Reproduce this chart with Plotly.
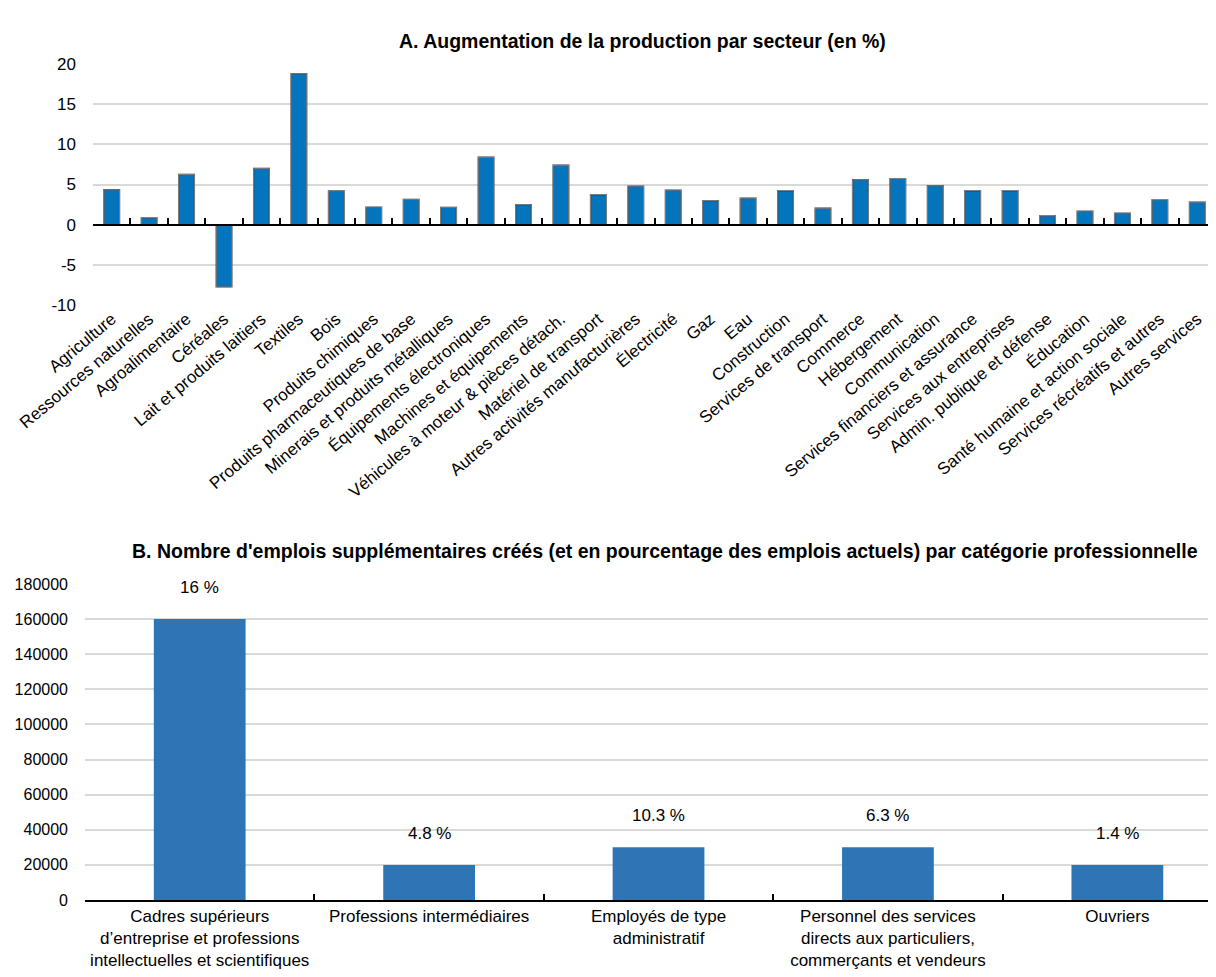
# Production et emplois supplémentaires par secteur / catégorie

import plotly.graph_objects as go

secteurs = [
    "Agriculture", "Ressources naturelles", "Agroalimentaire", "Céréales",
    "Lait et produits laitiers", "Textiles", "Bois", "Produits chimiques",
    "Produits pharmaceutiques de base", "Minerais et produits métalliques",
    "Équipements électroniques", "Machines et équipements",
    "Véhicules à moteur & pièces détach.", "Matériel de transport",
    "Autres activités manufacturières", "Électricité", "Gaz", "Eau",
    "Construction", "Services de transport", "Commerce", "Hébergement",
    "Communication", "Services financiers et assurance",
    "Services aux entreprises", "Admin. publique et défense", "Éducation",
    "Santé humaine et action sociale", "Services récréatifs et autres",
    "Autres services",
]
production = [
    4.35, 0.85, 6.25, -7.75, 7.0, 18.8, 4.2, 2.2, 3.15, 2.15,
    8.4, 2.5, 7.4, 3.75, 4.8, 4.3, 3.0, 3.3, 4.25, 2.05,
    5.6, 5.75, 4.85, 4.25, 4.25, 1.1, 1.7, 1.45, 3.1, 2.8,
]
ticks_a = [-10, -5, 0, 5, 10, 15, 20]
labels_a = ["-10", "-5", "0", "5", "10", "15", "20"]

categories = [
    "Cadres supérieurs<br>d’entreprise et professions<br>intellectuelles et scientifiques",
    "Professions intermédiaires",
    "Employés de type<br>administratif",
    "Personnel des services<br>directs aux particuliers,<br>commerçants et vendeurs",
    "Ouvriers",
]
emplois = [160000, 20000, 30000, 30000, 20000]
pourcentages = ["16 %", "4.8 %", "10.3 %", "6.3 %", "1.4 %"]

police = "Liberation Sans, Arial, sans-serif"
gris = "#d9d9d9"

# la page ajoute une marge de 8 px : figure de 1208 x 969
W, H = 1208, 969


def px_x(x):
    return (x - 8) / W


def px_y(y):
    return 1 - (y - 8) / H


fig = go.Figure()

# Panneau A
fig.add_trace(go.Bar(
    x=secteurs, y=production, xaxis="x", yaxis="y",
    marker=dict(color="#0474bc", line=dict(color="#1a1a1a", width=1.2)),
    width=0.42, showlegend=False,
))
# trace invisible pour l'axe des ticks au niveau zéro
fig.add_trace(go.Bar(
    x=secteurs, y=production, xaxis="x3", yaxis="y",
    marker=dict(color="rgba(0,0,0,0)"), width=0.42,
    showlegend=False, hoverinfo="skip",
))

# Panneau B
fig.add_trace(go.Bar(
    x=categories, y=emplois, xaxis="x2", yaxis="y2",
    marker=dict(color="#2e75b6", line=dict(width=0)),
    width=0.4, showlegend=False,
))

fig.update_layout(
    width=W, height=H,
    margin=dict(l=0, r=0, t=0, b=0),
    plot_bgcolor="white", paper_bgcolor="white",
    font=dict(family=police, size=16, color="black"),
    xaxis=dict(
        domain=[px_x(93), 1], anchor="y", type="category", automargin=False,
        tickangle=-40, showline=False, ticks="", showgrid=False,
        tickfont=dict(size=17), range=[-0.5, 29.5],
    ),
    xaxis3=dict(
        domain=[px_x(93), 1], overlaying="x", anchor="free", position=px_y(225),
        type="category", showticklabels=False, showgrid=False, automargin=False,
        showline=True, linecolor="black", linewidth=1.5,
        ticks="inside", tickson="boundaries", ticklen=6, tickwidth=1.5,
        tickcolor="black", range=[-0.5, 29.5],
    ),
    yaxis=dict(
        domain=[px_y(305), px_y(64)], anchor="x", automargin=False,
        range=[-10, 20], tickvals=ticks_a, ticktext=labels_a,
        showgrid=True, gridcolor=gris, gridwidth=1.5, zeroline=False,
        showline=False, ticklabelstandoff=16, tickfont=dict(size=17),
    ),
    xaxis2=dict(
        domain=[px_x(85), 1], anchor="y2", type="category", automargin=False,
        range=[-0.5, 4.43], showgrid=False,
        showline=True, linecolor="black", linewidth=1.5,
        ticks="inside", tickson="boundaries", ticklen=6, tickwidth=1.5,
        tickcolor="black", tickangle=0, tickfont=dict(size=17),
    ),
    yaxis2=dict(
        domain=[px_y(900), px_y(584)], anchor="x2", automargin=False,
        range=[0, 180000], dtick=20000, tickformat="d",
        showgrid=True, gridcolor=gris, gridwidth=1.5, zeroline=False,
        showline=False, ticklabelstandoff=16, tickfont=dict(size=16),
    ),
    annotations=[
        dict(text="<b>A. Augmentation de la production par secteur (en %)</b>",
             x=px_x(642), y=px_y(28), xref="paper", yref="paper",
             showarrow=False, font=dict(size=19.5)),
        dict(text="<b>B. Nombre d'emplois supplémentaires créés (et en pourcentage des emplois actuels) par catégorie professionnelle</b>",
             x=px_x(665), y=px_y(551), xref="paper", yref="paper",
             showarrow=False, font=dict(size=19.5)),
    ],
)

for cat, val, txt in zip(categories, emplois, pourcentages):
    fig.add_annotation(x=cat, y=val, xref="x2", yref="y2", text=txt,
                       showarrow=False, yanchor="bottom", yshift=20,
                       font=dict(size=17))

fig.write_html("out.html")
